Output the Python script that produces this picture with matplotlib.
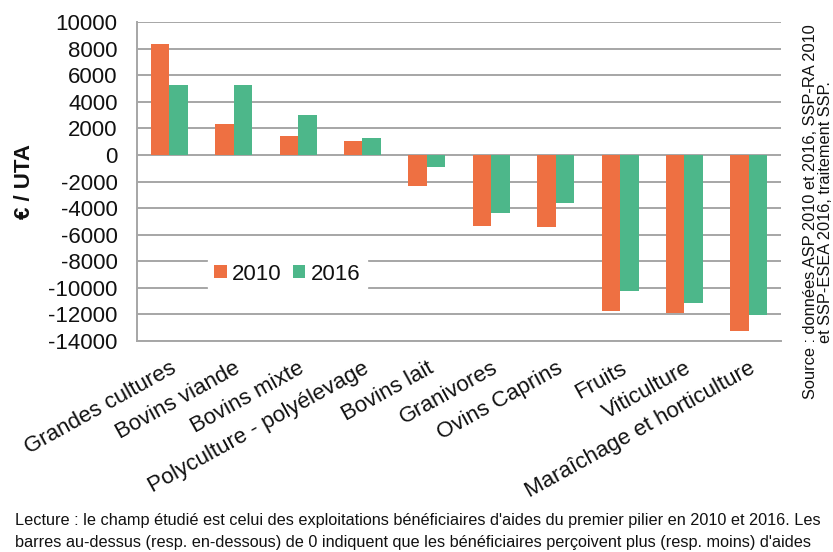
import matplotlib
matplotlib.use("Agg")
import matplotlib.pyplot as plt
import numpy as np

categories = ["Grandes cultures", "Bovins viande", "Bovins mixte",
              "Polyculture - polyélevage", "Bovins lait", "Granivores",
              "Ovins Caprins", "Fruits", "Viticulture",
              "Maraîchage et horticulture"]
values_2010 = [8320, 2360, 1460, 1080, -2330, -5360, -5440, -11730, -11880, -13260]
values_2016 = [5240, 5290, 3040, 1280, -870, -4380, -3610, -10230, -11170, -12050]
series_labels = ["2010", "2016"]
yticks = list(range(-14000, 10001, 2000))

c2010 = "#EE7042"
c2016 = "#4DB78A"
grid_c = "#A6A6A6"
txt_c = "#111111"

plt.rcParams['font.family'] = ['Liberation Sans', 'DejaVu Sans']

fig = plt.figure(figsize=(8.33, 5.52), dpi=100)
ax = fig.add_axes([0.1645, 0.3822, 0.7731, 0.5779])

x = np.arange(len(categories))
w = 0.287
ax.bar(x - w/2, values_2010, width=w, color=c2010, label=series_labels[0], zorder=3)
ax.bar(x + w/2, values_2016, width=w, color=c2016, label=series_labels[1], zorder=3)

ax.set_xlim(-0.5, len(categories) - 0.5)
ax.set_ylim(-14000, 10000)
ax.set_yticks(yticks)
ax.set_yticklabels([str(v) for v in yticks], fontsize=16, color=txt_c)
ax.yaxis.grid(True, color=grid_c, linewidth=1.4, zorder=0)
ax.tick_params(axis='y', length=0, pad=14)
ax.tick_params(axis='x', length=0, pad=12)

ax.set_xticks(x)
ax.set_xticklabels(categories, rotation=29, ha='right', va='top',
                   rotation_mode='anchor', fontsize=16, color=txt_c)

for s in ['top', 'right']:
    ax.spines[s].set_visible(False)
for s in ['left', 'bottom']:
    ax.spines[s].set_color(grid_c)
    ax.spines[s].set_linewidth(1.4)

ax.set_ylabel("€ / UTA", fontsize=16, fontweight='bold', color=txt_c)
ax.yaxis.set_label_coords(-0.158, 0.5)

leg = ax.legend(loc='center', bbox_to_anchor=(0.2335, 0.21), ncol=2, frameon=True,
                fontsize=16, handlelength=0.55, handleheight=0.55,
                handletextpad=0.25, columnspacing=0.5, borderpad=0.3,
                borderaxespad=0)
leg.get_frame().set_edgecolor('white')
leg.get_frame().set_facecolor('white')
leg.get_frame().set_alpha(1)
for t in leg.get_texts():
    t.set_color(txt_c)

fig.text(0.982, 1 - 212/552,
         "Source : données ASP 2010 et 2016, SSP-RA 2010\net SSP-ESEA 2016, traitement SSP.",
         rotation=90, ha='center', va='center', fontsize=11.8, color=txt_c,
         multialignment='center', linespacing=1.05)

fig.text(0.018, 1 - 520/552,
         "Lecture : le champ étudié est celui des exploitations bénéficiaires d'aides du premier pilier en 2010 et 2016. Les",
         fontsize=11.7, color=txt_c, va='center', ha='left')
fig.text(0.018, 1 - 543/552,
         "barres au-dessus (resp. en-dessous) de 0 indiquent que les bénéficiaires perçoivent plus (resp. moins) d'aides",
         fontsize=11.7, color=txt_c, va='center', ha='left')

fig.savefig("out.png", dpi=100)
